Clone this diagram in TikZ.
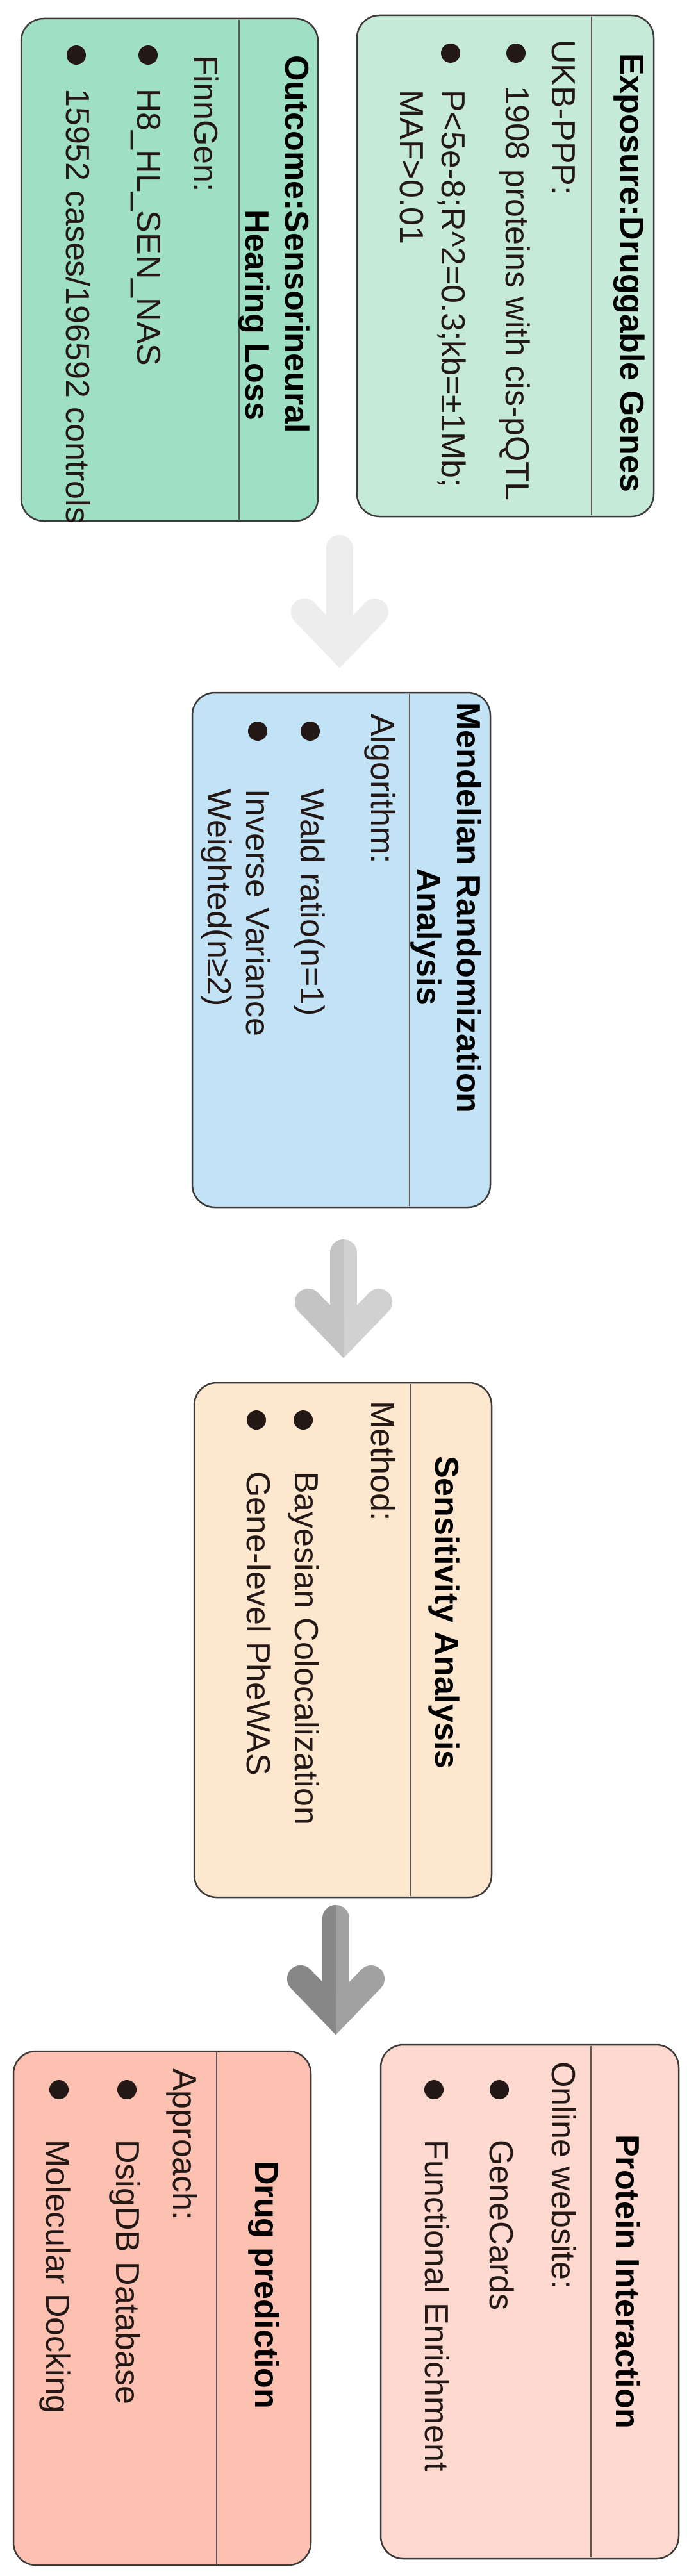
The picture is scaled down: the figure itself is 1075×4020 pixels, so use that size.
\documentclass[tikz,border=0pt]{standalone}
\usepackage{fontspec}
\setmainfont{Liberation Sans}
\definecolor{textc}{HTML}{231815}
\definecolor{bord}{HTML}{3E3A39}
\definecolor{cExp}{HTML}{C5EAD8}
\definecolor{cOut}{HTML}{9FDFC4}
\definecolor{cMR}{HTML}{C2E3F6}
\definecolor{cSen}{HTML}{FDE8CF}
\definecolor{cPro}{HTML}{FED9D0}
\definecolor{cDrug}{HTML}{FDC1B2}
\tikzset{
  txt/.style={rotate=-90, anchor=base west, inner sep=0pt, text=textc, font=\fontsize{52}{62}\selectfont},
  hdr/.style={txt, text=black, font=\fontsize{52}{62}\selectfont\bfseries},
  boxst/.style={draw=bord, line width=2.5pt, rounded corners=35pt},
  divst/.style={draw=bord!85, line width=2.5pt},
  bul/.style={fill=textc},
}
\newcommand{\myarrow}[5]{%
  % #1 cx, #2 top, #3 tip, #4 left colour, #5 right colour
  \draw[#5, line width=42pt, line cap=round] (#1,#2+21) -- (#1,#3-45);
  \draw[#5, line width=42pt, line cap=round, line join=miter] (#1-55,#3-95) -- (#1,#3-38) -- (#1+55,#3-95);
  \begin{scope}
    \clip (#1-120,#2-30) rectangle (#1,#3+30);
    \draw[#4, line width=42pt, line cap=round] (#1,#2+21) -- (#1,#3-45);
    \draw[#4, line width=42pt, line cap=round, line join=miter] (#1-55,#3-95) -- (#1,#3-38) -- (#1+55,#3-95);
  \end{scope}}
\begin{document}
\begin{tikzpicture}[x=1pt,y=-1pt]
\useasboundingbox[fill=white] (0,0) rectangle (1075,4020);

% ---- Exposure
\draw[boxst, fill=cExp] (557,24) rectangle (1020,806);
\draw[divst] (923,26) -- (923,804);
\node[hdr] (exph) at (968,83) {Exposure:Druggable Genes};
\node[txt] (exp0) at (861,62) {UKB-PPP:};
\fill[bul] (805,83) circle (15pt);
\node[txt] (exp1) at (789,134) {1908 proteins with cis-pQTL};
\fill[bul] (703,83) circle (15pt);
\node[txt] (exp2) at (689,140) {P<5e-8;R\^{}2=0.3;kb=±1Mb;};
\node[txt] (exp3) at (624,140) {MAF>0.01};

% ---- Outcome
\draw[boxst, fill=cOut] (33,29) rectangle (496,813);
\draw[divst] (373,31) -- (373,811);
\node[hdr] (outh1) at (445,86) {Outcome:Sensorineural};
\node[hdr] (outh2) at (383,327) {Hearing Loss};
\node[txt] (out0) at (303,86) {FinnGen:};
\fill[bul] (231,86) circle (15pt);
\node[txt] (out1) at (214,138) {H8\_HL\_SEN\_NAS};
\fill[bul] (119,86) circle (15pt);
\node[txt] (out2) at (103,138) {15952 cases/196592 controls};

% ---- Arrow 1
\myarrow{530}{835}{1050}{black!7}{black!7}

% ---- MR
\draw[boxst, fill=cMR] (300,1081) rectangle (765,1884);
\draw[divst] (639,1083) -- (639,1882);
\node[hdr] (mrh1) at (713,1096) {Mendelian Randomization};
\node[hdr] (mrh2) at (651,1355) {Analysis};
\node[txt] (mr0) at (579,1114) {Algorithm:};
\fill[bul] (484,1141) circle (15pt);
\node[txt] (mr1) at (469,1231) {Wald ratio(n=1)};
\fill[bul] (402,1141) circle (15pt);
\node[txt] (mr2) at (384,1231) {Inverse Variance};
\node[txt] (mr3) at (324,1231) {Weighted(n≥2)};

% ---- Arrow 2
\myarrow{536}{1934}{2127}{black!23}{black!18}

% ---- Sensitivity
\draw[boxst, fill=cSen] (303,2158) rectangle (767,2961);
\draw[divst] (640,2160) -- (640,2959);
\node[hdr] (senh) at (679,2272) {Sensitivity Analysis};
\node[txt] (sen0) at (579,2186) {Method:};
\fill[bul] (473,2216) circle (15pt);
\node[txt] (sen1) at (460,2296) {Bayesian Colocalization};
\fill[bul] (400,2216) circle (15pt);
\node[txt] (sen2) at (385,2296) {Gene-level PheWAS};

% ---- Arrow 3
\myarrow{524}{2973}{3183}{black!47}{black!37}

% ---- Protein
\draw[boxst, fill=cPro] (594,3191) rectangle (1059,3993);
\draw[divst] (922,3193) -- (922,3991);
\node[hdr] (proh) at (961,3331) {Protein Interaction};
\node[txt] (pro0) at (861,3217) {Online website:};
\fill[bul] (779,3261) circle (15pt);
\node[txt] (pro1) at (764,3339) {GeneCards};
\fill[bul] (677,3261) circle (15pt);
\node[txt] (pro2) at (663,3339) {Functional Enrichment};

% ---- Drug
\draw[boxst, fill=cDrug] (21,3201) rectangle (485,4003);
\draw[divst] (338,3203) -- (338,4001);
\node[hdr] (drgh) at (398,3372) {Drug prediction};
\node[txt] (drg0) at (270,3228) {Approach:};
\fill[bul] (198,3261) circle (15pt);
\node[txt] (drg1) at (181,3339) {DsigDB Database};
\fill[bul] (92,3261) circle (15pt);
\node[txt] (drg2) at (72,3339) {Molecular Docking};
\end{tikzpicture}
\end{document}
